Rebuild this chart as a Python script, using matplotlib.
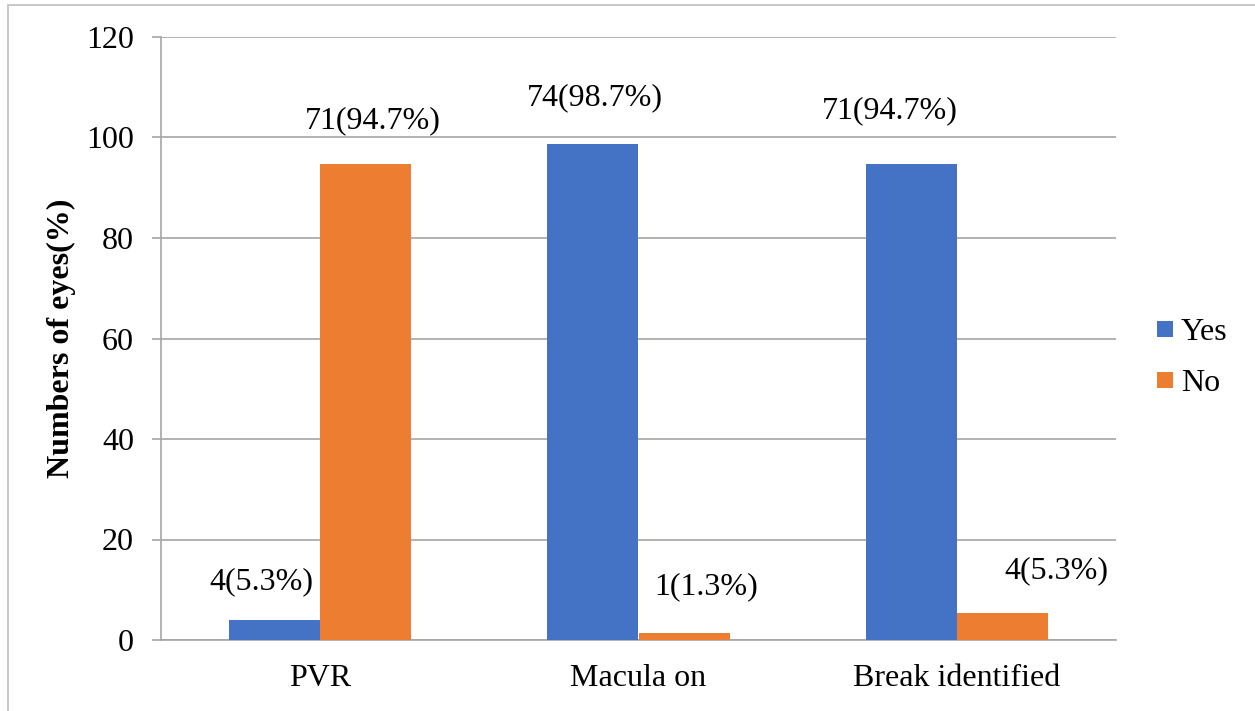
import numpy as np
from matplotlib import pyplot as plt
from matplotlib.patches import Rectangle
from matplotlib.lines import Line2D

plt.rcParams["font.family"] = "Liberation Serif"
plt.rcParams.update({'font.size': 23})

categories = ['PVR', 'Macula on', 'Break identified']
yes_counts = [4, 74, 71]
yes_pct = [5.3, 98.7, 94.7]
yes_heights = [4, 98.7, 94.7]
no_counts = [71, 1, 4]
no_pct = [94.7, 1.3, 5.3]
no_heights = [94.7, 1.3, 5.3]

# label offsets (pixels) from the top centre of each bar
yes_offsets = [(-13, 38), (2, 46), (-21, 53)]
no_offsets = [(7, 43), (22, 47), (54, 43)]

c_yes = '#4472C4'
c_no = '#ED7D31'
grid_c = '#a6a6a6'

fig = plt.figure(figsize=(12.55, 7.11), dpi=100)
ax = fig.add_axes([161 / 1255, 1 - 640 / 711, (1116 - 161) / 1255, (640 - 37) / 711])

# light outer frame
fig.patches.append(Rectangle((8 / 1255, -0.1), 1.2, 1 - 5 / 711 + 0.1,
                             transform=fig.transFigure, fill=False,
                             edgecolor='#bfbfbf', linewidth=1.2))

x = np.arange(len(categories))
w = 0.286
b_yes = ax.bar(x - w / 2, yes_heights, w, color=c_yes, zorder=3)
b_no = ax.bar(x + w / 2, no_heights, w, color=c_no, zorder=3)

for bars, counts, pcts, offs in [(b_yes, yes_counts, yes_pct, yes_offsets),
                                 (b_no, no_counts, no_pct, no_offsets)]:
    for rect, n, p, (dx, dy) in zip(bars, counts, pcts, offs):
        ax.annotate(f'{n}({p}%)', (rect.get_x() + rect.get_width() / 2, rect.get_height()),
                    xytext=(dx, dy), textcoords='offset pixels',
                    ha='center', va='center', fontsize=23)

ax.set_xlim(-0.5, 2.5)
ax.set_ylim(0, 120)
ax.set_yticks(np.arange(0, 121, 20))
ax.set_xticks(x)
ax.set_xticklabels(categories)
ax.grid(axis='y', color=grid_c, linewidth=1.2, zorder=0)
ax.set_axisbelow(True)

for s in ['top', 'right']:
    ax.spines[s].set_visible(False)
for s in ['left', 'bottom']:
    ax.spines[s].set_color(grid_c)
    ax.spines[s].set_linewidth(1.2)
ax.tick_params(axis='y', length=6.5, width=1.2, color=grid_c, pad=13)
ax.tick_params(axis='x', length=0, pad=17)

ax.set_ylabel('Numbers of eyes(%)', fontweight='bold', fontsize=23, labelpad=7)

handles = [Line2D([], [], marker='s', ls='none', markersize=11, color=c, markeredgewidth=0)
           for c in (c_yes, c_no)]
leg = ax.legend(handles, ['Yes', 'No'], loc='center left',
                bbox_to_anchor=((1157 - 161) / 955, 1 - (358 - 37) / 603),
                frameon=False, handlelength=0.5, handletextpad=0.25,
                labelspacing=0.68, borderaxespad=0, borderpad=0, fontsize=23)

plt.savefig('out.png', dpi=100)
